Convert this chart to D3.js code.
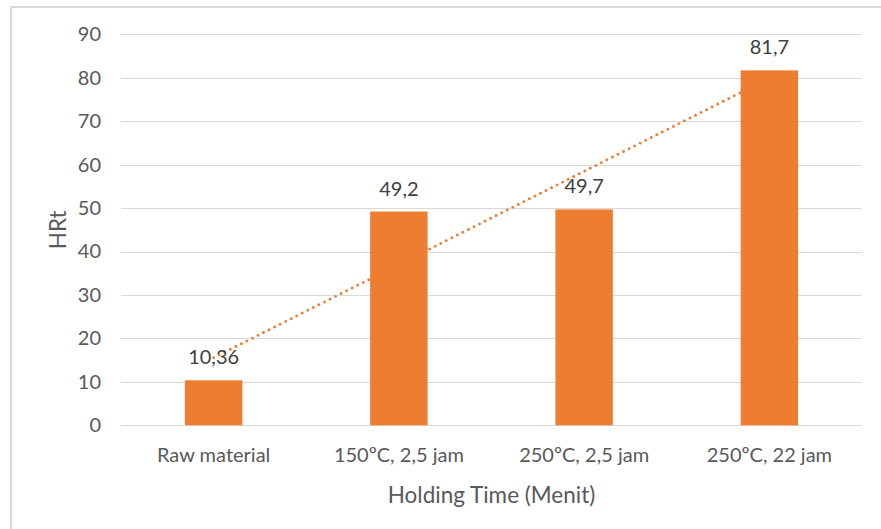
<!DOCTYPE html>
<html>
<head>
<meta charset="utf-8">
<script src="https://cdn.jsdelivr.net/npm/d3@7"></script>
<style>
  html, body { margin: 0; padding: 0; background: #fff; }
  svg { display: block; font-family: Lato, "Open Sans", sans-serif; }
</style>
</head>
<body>
<svg id="chart" width="881" height="529"></svg>
<script>
// Hardness (HRt) per treatment condition
const categories = ["Raw material", "150ºC, 2,5 jam", "250ºC, 2,5 jam", "250ºC, 22 jam"];
const hardness = [10.36, 49.2, 49.7, 81.7];
const valueLabels = ["10,36", "49,2", "49,7", "81,7"];
const yTicks = [0, 10, 20, 30, 40, 50, 60, 70, 80, 90];

const svg = d3.select("#chart");
const W = 881, H = 529;
const plot = { left: 121, right: 862, top: 34.3, bottom: 425.3 };
const orange = "#ED7D31";
const labelSize = 20;
const titleSize = 22.5;

// Outer chart frame (top and left edges visible)
svg.append("path")
  .attr("d", `M11,${H} L11,7 L${W},7`)
  .attr("fill", "none")
  .attr("stroke", "#d9d9d9")
  .attr("stroke-width", 2);

const x = d3.scaleBand()
  .domain(categories)
  .range([plot.left, plot.right])
  .paddingInner(0.69)
  .paddingOuter(0.345);

const y = d3.scaleLinear()
  .domain([0, 90])
  .range([plot.bottom, plot.top]);

// Horizontal gridlines
svg.append("g")
  .selectAll("line")
  .data(yTicks)
  .join("line")
  .attr("x1", plot.left)
  .attr("x2", plot.right)
  .attr("y1", d => Math.round(y(d)) + 0.5)
  .attr("y2", d => Math.round(y(d)) + 0.5)
  .attr("stroke", "#d9d9d9")
  .attr("stroke-width", 1);

// Y axis labels
const yAxis = d3.axisLeft(y).tickValues(yTicks).tickSize(0).tickPadding(0);
const yg = svg.append("g")
  .attr("transform", `translate(${plot.left - 20},0)`)
  .call(yAxis);
yg.select(".domain").remove();
yg.selectAll("text")
  .attr("font-size", labelSize)
  .attr("font-family", "Lato, 'Open Sans', sans-serif")
  .attr("fill", "#595959");

// Linear trendline (least squares over category positions 1..n)
const xs = hardness.map((_, i) => i + 1);
const mx = d3.mean(xs), my = d3.mean(hardness);
const slope = d3.sum(xs.map((v, i) => (v - mx) * (hardness[i] - my))) /
              d3.sum(xs.map(v => (v - mx) ** 2));
const intercept = my - slope * mx;
const center = c => x(c) + x.bandwidth() / 2;
const trend = categories.map((c, i) => [center(c), intercept + slope * (i + 1)]);

svg.append("path")
  .datum([trend[0], trend[trend.length - 1]])
  .attr("d", d3.line().x(d => d[0]).y(d => y(d[1])))
  .attr("fill", "none")
  .attr("stroke", orange)
  .attr("stroke-width", 2.8)
  .attr("stroke-linecap", "round")
  .attr("stroke-dasharray", "0.1 6.1");

// Bars
svg.append("g")
  .selectAll("rect")
  .data(hardness)
  .join("rect")
  .attr("x", (d, i) => x(categories[i]))
  .attr("width", x.bandwidth())
  .attr("y", d => y(d))
  .attr("height", d => y(0) - y(d))
  .attr("fill", orange);

// Value labels
svg.append("g")
  .selectAll("text")
  .data(hardness)
  .join("text")
  .attr("x", (d, i) => center(categories[i]))
  .attr("y", d => y(d) - 16)
  .attr("text-anchor", "middle")
  .attr("font-size", labelSize)
  .attr("fill", "#404040")
  .text((d, i) => valueLabels[i]);

// Category labels
const xAxis = d3.axisBottom(x).tickSize(0).tickPadding(0);
const xg = svg.append("g")
  .attr("transform", `translate(0,${plot.bottom + 22.5})`)
  .call(xAxis);
xg.select(".domain").remove();
xg.selectAll("text")
  .attr("font-size", labelSize)
  .attr("font-family", "Lato, 'Open Sans', sans-serif")
  .attr("fill", "#595959");

// Axis titles
svg.append("text")
  .attr("x", (plot.left + plot.right) / 2)
  .attr("y", 503)
  .attr("text-anchor", "middle")
  .attr("font-size", titleSize)
  .attr("fill", "#595959")
  .text("Holding Time (Menit)");

svg.append("text")
  .attr("transform", `translate(66,${(plot.top + plot.bottom) / 2}) rotate(-90)`)
  .attr("text-anchor", "middle")
  .attr("font-size", titleSize)
  .attr("fill", "#595959")
  .text("HRt");
</script>
</body>
</html>
